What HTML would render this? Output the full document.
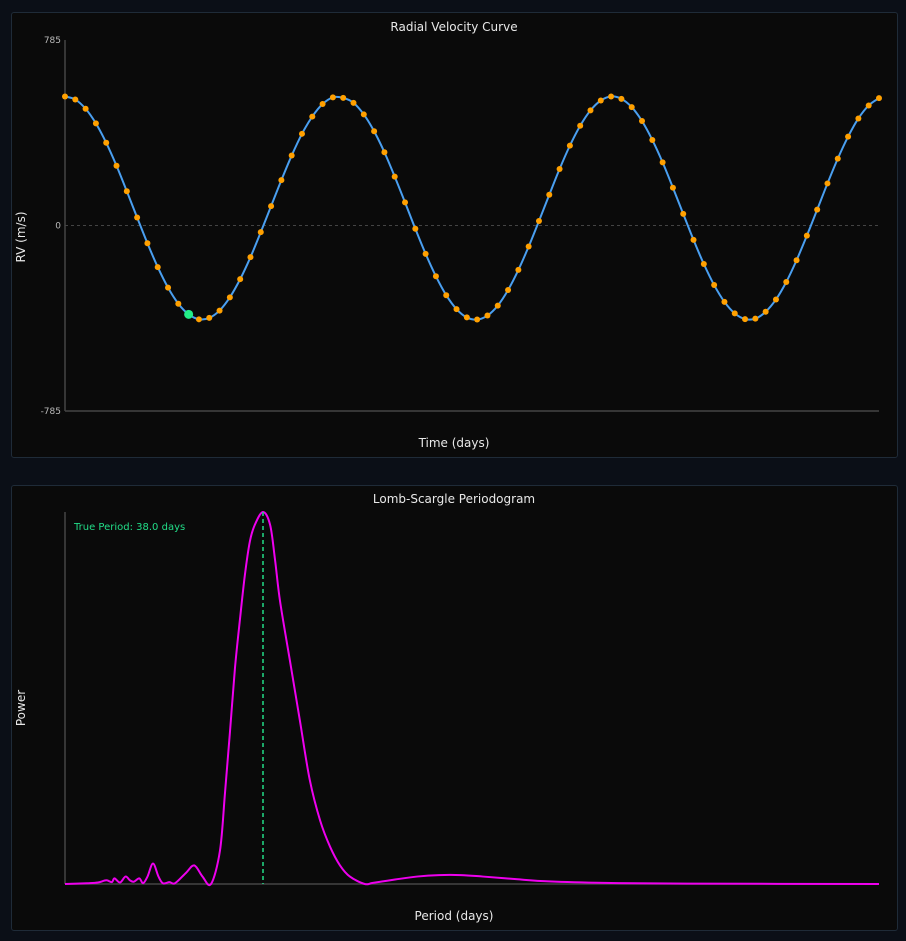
<!DOCTYPE html>
<html><head><meta charset="utf-8">
<style>
html,body{margin:0;padding:0;background:#0b0f17;width:906px;height:941px;overflow:hidden;font-family:"DejaVu Sans","Liberation Sans",sans-serif;}
.panel{position:absolute;left:11px;width:885px;height:444px;background:#0a0a0a;border:1px solid #1f2b38;border-radius:3px;}
svg{position:absolute;left:0;top:0;}
</style></head><body>
<div class="panel" style="top:12px"></div>
<div class="panel" style="top:485px"></div>
<svg id="chart" width="906" height="941">
<g font-size="12" fill="#e8e8e8" text-anchor="middle">
<text x="454" y="31">Radial Velocity Curve</text>
<text x="454" y="447">Time (days)</text>
<text transform="translate(25,237) rotate(-90)">RV (m/s)</text>
<text x="454" y="503">Lomb-Scargle Periodogram</text>
<text x="454" y="920">Period (days)</text>
<text transform="translate(25,708) rotate(-90)">Power</text>
</g>
<g id="rv"></g>
<g id="pg"></g>
</svg>
<script>
const rvValues=[546,533,494,432,350,253,145,34,-75,-176,-263,-331,-376,-397,-391,-360,-304,-227,-134,-28,82,192,296,388,461,514,542,540,519,470,399,310,207,98,-14,-120,-215,-295,-354,-389,-398,-381,-339,-273,-188,-89,19,130,239,338,422,487,529,546,536,501,442,362,267,160,49,-61,-163,-252,-323,-372,-396,-394,-365,-313,-239,-147,-43,67,178,283,376,453,508,539];
const rvYTicks=[785,0,-785];
const highlightIndex=12;
const periods=[2,6,8,9.5,10.5,11,12,13,13.8,14.5,15.5,16.2,17,18,19,19.8,21,22,24,25.5,27,28.55,30.18,31.09,32,32.9,33.8,34.7,35.6,36.5,38,39.3,40.2,41.1,42.9,44.7,46.5,48.4,50.2,52,53.8,56.5,58,62,66,70,74,78,84,90,100,115,150];
const powers=[0,0.002,0.004,0.01,0.005,0.015,0.004,0.02,0.01,0.006,0.015,0.002,0.02,0.055,0.02,0.002,0.005,0.002,0.03,0.05,0.02,0,0.09,0.245,0.41,0.58,0.71,0.83,0.92,0.965,1.0,0.965,0.87,0.76,0.6,0.44,0.28,0.17,0.1,0.05,0.02,0,0.003,0.012,0.02,0.024,0.024,0.02,0.013,0.007,0.003,0.001,0];
const truePeriod=38.0;
const NS="http://www.w3.org/2000/svg";
function mk(t,a,p){const e=document.createElementNS(NS,t);for(const k in a)e.setAttribute(k,a[k]);p.appendChild(e);return e;}
function smooth(pts){let d="M"+pts[0][0]+","+pts[0][1];for(let i=0;i<pts.length-1;i++){const p0=pts[i-1]||pts[i],p1=pts[i],p2=pts[i+1],p3=pts[i+2]||p2;
d+=" C"+(p1[0]+(p2[0]-p0[0])/6)+","+(p1[1]+(p2[1]-p0[1])/6)+" "+(p2[0]-(p3[0]-p1[0])/6)+","+(p2[1]-(p3[1]-p1[1])/6)+" "+p2[0]+","+p2[1];}return d;}
const L=65,R=879,T=40,B=411;
const rvX=i=>L+(R-L)*i/(rvValues.length-1);
const rvY=v=>T+(B-T)*(785-v)/1570;
const rv=document.getElementById('rv');
let e=mk('line',{x1:L,y1:rvY(0),x2:R,y2:rvY(0),stroke:'#444',"stroke-dasharray":"3,3"},rv);

e=mk('line',{x1:L,y1:T,x2:L,y2:B,stroke:'#444',"stroke-width":1.5},rv);

e=mk('line',{x1:L,y1:B,x2:R,y2:B,stroke:'#444',"stroke-width":1.5},rv);

rvYTicks.forEach(t=>{const tx=mk('text',{x:L-4,y:rvY(t)+3,"font-size":9,fill:'#bbb',"text-anchor":"end"},rv);tx.textContent=t;
});
const pts=rvValues.map((v,i)=>[rvX(i),rvY(v)]);
e=mk('path',{d:smooth(pts),fill:'none',stroke:'#4a9ff0',"stroke-width":2},rv);

rvValues.forEach((v,i)=>{const c=mk('circle',{cx:rvX(i),cy:rvY(v),r:i===highlightIndex?4.5:3,fill:i===highlightIndex?'#22ee88':'#ffa000'},rv);
});
const PL=65,PR=879,PT=512,PB=884,PMIN=2,PMAX=150;
const pX=p=>PL+(PR-PL)*(p-PMIN)/(PMAX-PMIN);
const pY=v=>PB-(PB-PT)*v;
const pg=document.getElementById('pg');
e=mk('line',{x1:PL,y1:PT,x2:PL,y2:PB,stroke:'#444',"stroke-width":1.5},pg);

e=mk('line',{x1:PL,y1:PB,x2:PR,y2:PB,stroke:'#444',"stroke-width":1.5},pg);

e=mk('path',{d:smooth(periods.map((p,i)=>[pX(p),pY(powers[i])])),fill:'none',stroke:'#ee00ee',"stroke-width":2},pg);

e=mk('line',{x1:pX(truePeriod),y1:PT,x2:pX(truePeriod),y2:PB,stroke:'#22dd88',"stroke-width":1.5,"stroke-dasharray":"4,3"},pg);

e=mk('text',{x:74,y:530,"font-size":10,fill:'#22dd88'},pg);e.textContent='True Period: '+truePeriod.toFixed(1)+' days';

</script>
</body></html>
